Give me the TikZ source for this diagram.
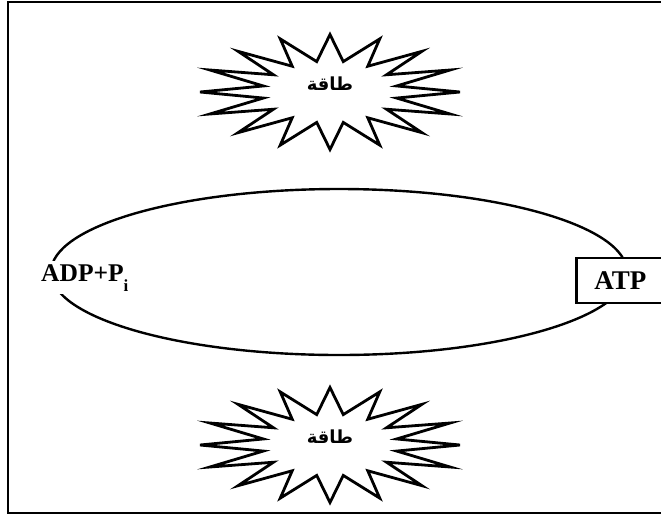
\documentclass[tikz,border=0pt]{standalone}
\usepackage{fontspec}
\setmainfont{Liberation Serif}
\newfontfamily\arabicfont[Script=Arabic]{DejaVu Sans}
\TeXXeTstate=1
\tikzset{
  frameline/.style={line width=2.4pt},
  cycleline/.style={line width=2.4pt},
  burstline/.style={line width=2.8pt, line join=miter, fill=white},
  chem/.style={font=\fontsize{25.5}{30}\selectfont\bfseries, fill=white, inner sep=3pt},
  atpbox/.style={draw, line width=2.6pt, fill=white, font=\fontsize{27}{30}\selectfont\bfseries,
    inner xsep=18pt, inner ysep=0pt, minimum height=45pt, text width=110pt, align=left, anchor=west},
  energy/.style={font=\arabicfont\bfseries\fontsize{18}{20}\selectfont, inner sep=1pt}
}
\newcommand\burstat[2]{%
  \begin{scope}[shift={(#1,#2)}]
    \draw[burstline] (0,-57.5)
      \foreach \k [evaluate=\k as \rx using {ifthenelse(mod(\k,2)==0,130,68)},
                   evaluate=\k as \ry using {ifthenelse(mod(\k,2)==0,57.5,31)}] in {1,...,31}
      { -- ({\rx*cos(90+11.25*\k)},{-\ry*sin(90+11.25*\k)}) } -- cycle;
  \end{scope}}
\begin{document}
\begin{tikzpicture}[x=1pt,y=-1pt]
  \useasboundingbox (0,0) rectangle (661,515);
  \clip (0,0) rectangle (661,515);
  \draw[frameline] (8,2) rectangle (690,513);
  % cycle
  \draw[cycleline] (339,272) ellipse [x radius=288, y radius=83];
  % bursts
  \burstat{330}{92}
  \burstat{330}{445}
  \node[energy] (e1) at (330,84) {\beginR طاقة\endR};
  \node[energy] (e2) at (330,437) {\beginR طاقة\endR};
  % labels
  \node[chem, anchor=base west] (adp) at (38,281) {ADP+P\raisebox{-10pt}{\fontsize{17}{17}\selectfont i}};
  \node[atpbox] (atp) at (575,280.5) {ATP};
\end{tikzpicture}
\end{document}
